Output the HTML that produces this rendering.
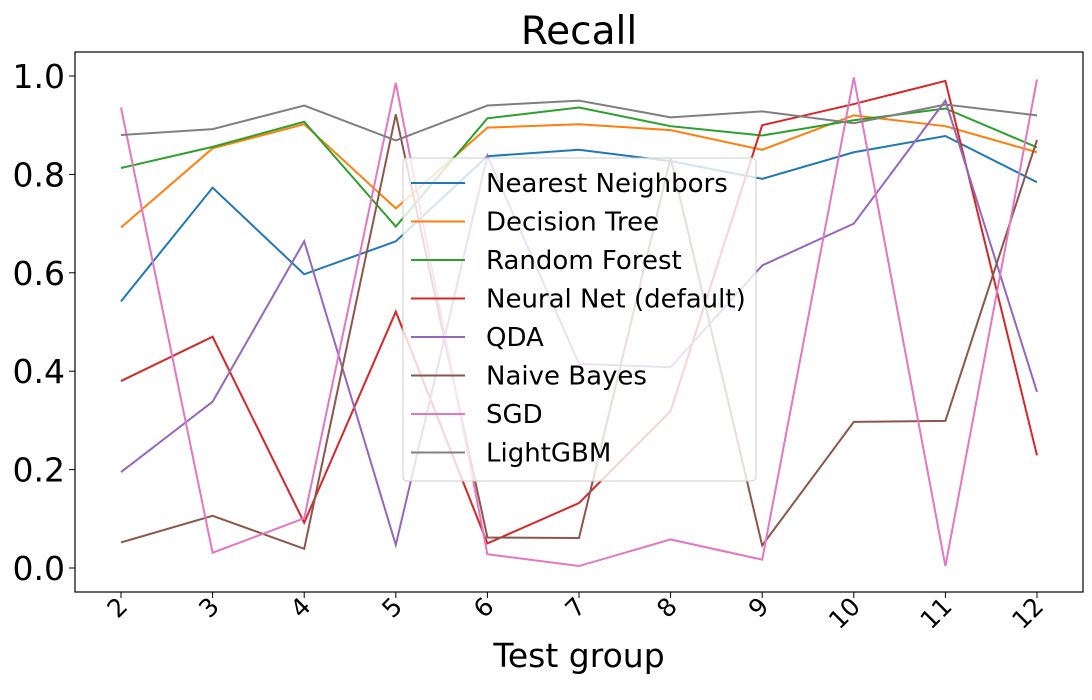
<!DOCTYPE html>
<html><head><meta charset="utf-8"><style>
body{margin:0;background:#fff}
svg text{font-family:"DejaVu Sans","Liberation Sans",sans-serif}
</style></head><body>
<svg id="c" width="1092" height="695" xmlns="http://www.w3.org/2000/svg"></svg>
<script>
const categories=["2","3","4","5","6","7","8","9","10","11","12"];
const seriesNames=["Nearest Neighbors","Decision Tree","Random Forest","Neural Net (default)","QDA","Naive Bayes","SGD","LightGBM"];
const colors=["#1f77b4","#ff7f0e","#2ca02c","#d62728","#9467bd","#8c564b","#e377c2","#7f7f7f"];
const nearestNeighbors=[0.542,0.773,0.597,0.664,0.837,0.850,0.827,0.791,0.845,0.878,0.784];
const decisionTree=[0.692,0.853,0.902,0.731,0.895,0.902,0.890,0.850,0.920,0.898,0.845];
const randomForest=[0.813,0.856,0.907,0.694,0.914,0.936,0.898,0.879,0.910,0.934,0.855];
const neuralNet=[0.380,0.470,0.092,0.521,0.050,0.132,0.319,0.900,0.943,0.990,0.229];
const qda=[0.195,0.338,0.664,0.047,0.838,0.415,0.408,0.615,0.700,0.950,0.358];
const naiveBayes=[0.052,0.106,0.039,0.922,0.062,0.061,0.833,0.046,0.297,0.299,0.870];
const sgd=[0.936,0.031,0.101,0.986,0.028,0.004,0.058,0.017,0.997,0.004,0.993];
const lightgbm=[0.880,0.892,0.940,0.869,0.940,0.950,0.916,0.928,0.904,0.942,0.920];
const yTicks=[0,0.2,0.4,0.6,0.8,1.0];
const series=[nearestNeighbors,decisionTree,randomForest,neuralNet,qda,naiveBayes,sgd,lightgbm];
const slugs=["nearest-neighbors","decision-tree","random-forest","neural-net","qda","naive-bayes","sgd","lightgbm"];

const NS="http://www.w3.org/2000/svg";
const svg=document.getElementById('c');
const L=75,R=1083,T=52,B=592;
const x=i=>121+i*(1037-121)/(categories.length-1);
const y=v=>568-v*492;
function mk(tag,attrs,parent){const e=document.createElementNS(NS,tag);for(const k in attrs)e.setAttribute(k,attrs[k]);(parent||svg).appendChild(e);return e;}

series.forEach((s,k)=>{
  const p=mk('polyline',{points:s.map((v,i)=>x(i)+','+y(v)).join(' '),fill:'none',stroke:colors[k],'stroke-width':2});
  
  
});
const frame=mk('rect',{x:L,y:T,width:R-L,height:B-T,fill:'none',stroke:'#000','stroke-width':1.2});



yTicks.forEach(t=>{
  mk('line',{x1:L-6,x2:L,y1:y(t),y2:y(t),stroke:'#000','stroke-width':1});
  const tx=mk('text',{x:L-10,y:y(t)+12,'text-anchor':'end','font-size':33});
  tx.textContent=t.toFixed(1);
  
  
});
categories.forEach((c,i)=>{
  mk('line',{x1:x(i),x2:x(i),y1:B,y2:B+6,stroke:'#000','stroke-width':1});
  const tx=mk('text',{x:x(i)+8,y:B+16,'text-anchor':'end','font-size':25,transform:`rotate(-45 ${x(i)+8} ${B+16})`});
  tx.textContent=c;
  
  
});
const title=mk('text',{x:579,y:44,'text-anchor':'middle','font-size':39});
title.textContent='Recall';


const xt=mk('text',{x:579,y:667,'text-anchor':'middle','font-size':33});
xt.textContent='Test group';



const lg=mk('g',{});


mk('rect',{x:403,y:158,width:353,height:323,rx:4,fill:'#fff','fill-opacity':0.8,stroke:'#ccc','stroke-width':1},lg);
seriesNames.forEach((n,k)=>{
  const yy=183+k*38.5;
  const g=mk('g',{},lg);
  
  
  mk('line',{x1:411,x2:465,y1:yy,y2:yy,stroke:colors[k],'stroke-width':2},g);
  const t=mk('text',{x:486,y:yy+9,'font-size':26},g);
  t.textContent=n;
});
</script>
</body></html>
